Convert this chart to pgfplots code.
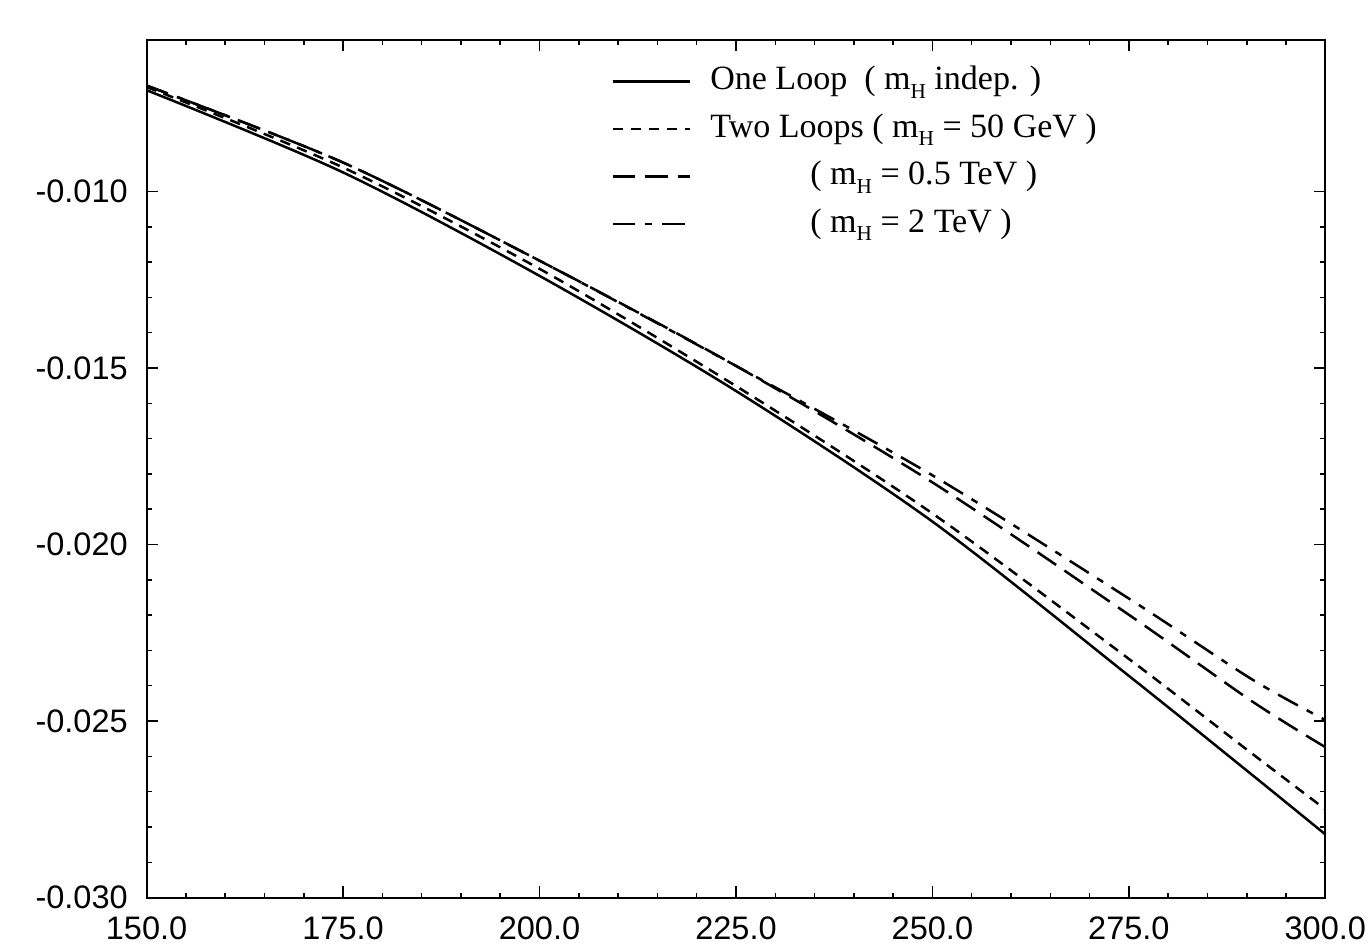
\documentclass[border=0pt]{standalone}
\usepackage{fontspec}
\setmainfont{Liberation Sans}
\newfontfamily\tnr{Liberation Serif}
\usepackage{pgfplots}
\pgfplotsset{compat=1.18}
\newcommand{\mH}{m\raisebox{-0.55ex}{\fontsize{8.5}{9}\selectfont H}}
\begin{document}
\begin{tikzpicture}
\begin{axis}[
  name=ax,
  width=471.2pt, height=342.8pt,
  scale only axis,
  xmin=150, xmax=300,
  ymin=-0.030, ymax=-0.00571,
  xtick={150,175,...,300},
  ytick={-0.030,-0.025,-0.020,-0.015,-0.010},
  minor x tick num=4,
  minor y tick num=4,
  tick align=inside,
  major tick length=4.5pt,
  minor tick length=2pt,
  axis line style={line width=0.8pt},
  every tick/.style={black, line width=0.6pt},
  scaled y ticks=false,
  scaled x ticks=false,
  xticklabel style={yshift=-4pt, inner xsep=0pt, /pgf/number format/.cd, fixed, fixed zerofill, precision=1, assume math mode=true},
  yticklabel style={xshift=-4pt, /pgf/number format/.cd, fixed, fixed zerofill, precision=3, assume math mode=true},
  ticklabel style={font=\fontsize{13}{15}\selectfont},
  xtick pos=both, ytick pos=both,
  legend cell align=left,
  legend image code/.code={\draw[#1, line width=0.9pt] (0pt,0pt) -- (31pt,0pt);},
  legend style={draw=none, fill=none, at={(0.394,0.972)}, anchor=north west,
    inner sep=0pt, row sep=5.5pt, column sep=7.6pt,
    font=\tnr\fontsize{13.6}{16}\selectfont,
    nodes={inner sep=0pt, text height=10pt, text depth=3.5pt}},
]
\addplot[black, line width=1pt, smooth] coordinates {
(150,-0.00713) (175,-0.00946) (200,-0.01239) (225,-0.01565)
(250,-0.01935) (275,-0.02372) (290.6,-0.02651) (300,-0.02821)};
\addlegendentry{One Loop\ \ ( \mH\ indep. )}
\addplot[black, line width=1pt, smooth, dash pattern=on 4.2pt off 3pt] coordinates {
(150,-0.00704) (175,-0.00932) (200,-0.01219) (225,-0.01551)
(250,-0.01912) (275,-0.02324) (290.6,-0.02591) (300,-0.02750)};
\addlegendentry{Two Loops ( \mH\ = 50 GeV )}
\addplot[black, line width=1pt, smooth, dash pattern=on 9pt off 4pt] coordinates {
(150,-0.00700) (175,-0.00918) (200,-0.01196) (225,-0.01494)
(250,-0.01824) (275,-0.02199) (290.6,-0.02443) (300,-0.02574)};
\addlegendentry{\hspace*{40pt}( \mH\ = 0.5 TeV )}
\addplot[black, line width=1pt, smooth, dash pattern=on 9pt off 4pt on 2.8pt off 4pt] coordinates {
(150,-0.00700) (175,-0.00918) (200,-0.01196) (225,-0.01494)
(250,-0.01804) (275,-0.02153) (290.6,-0.02381) (300,-0.02497)};
\addlegendentry{\hspace*{40pt}( \mH\ = 2 TeV )}
\end{axis}
\path ([xshift=-58.6pt]ax.south west) ([yshift=16pt]ax.north west);
\end{tikzpicture}
\end{document}
